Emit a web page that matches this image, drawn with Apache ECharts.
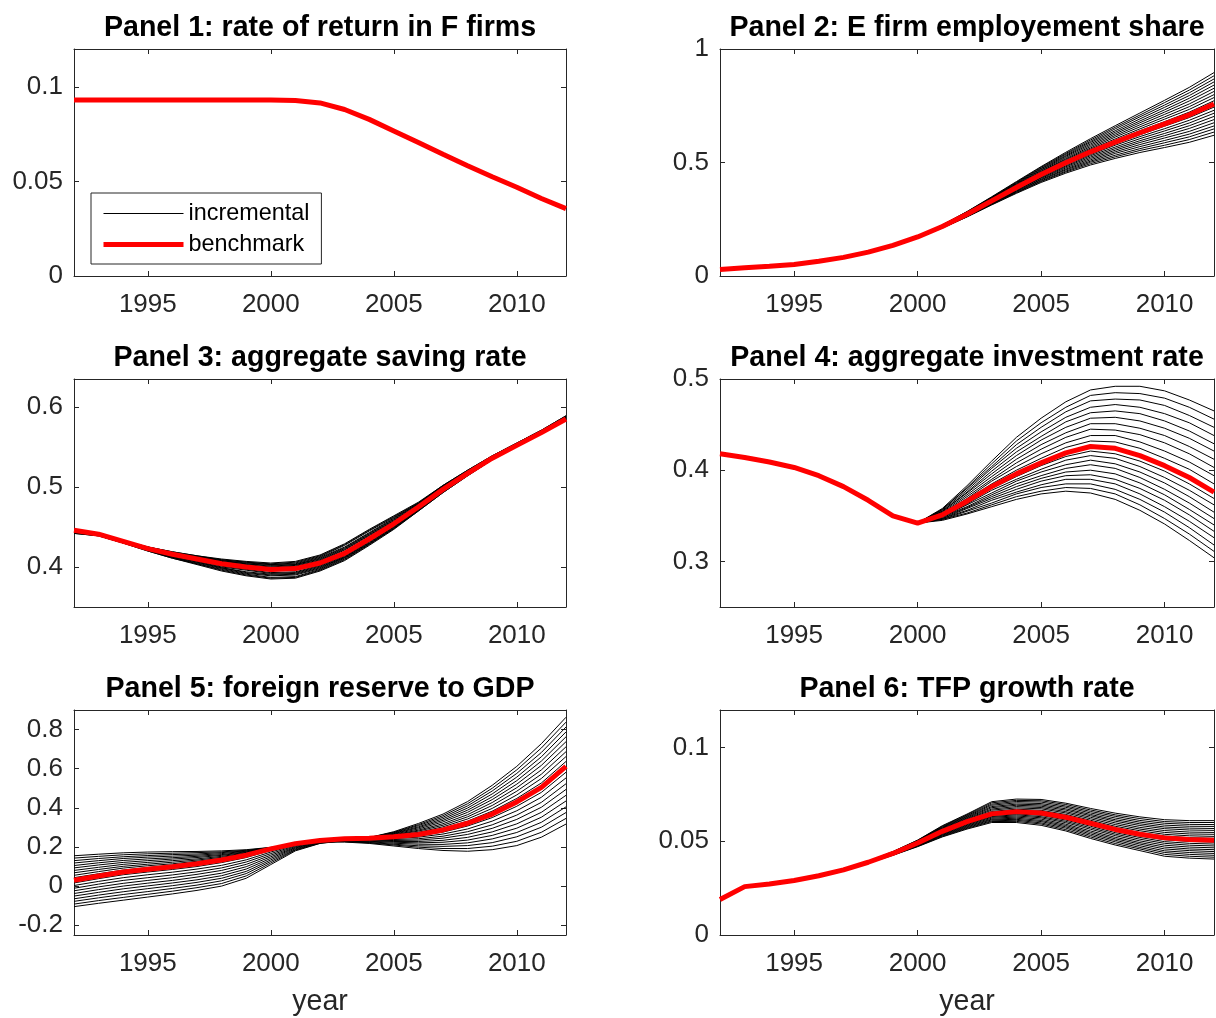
<!DOCTYPE html>
<html>
<head>
<meta charset="utf-8">
<script src="https://cdn.jsdelivr.net/npm/echarts@6/dist/echarts.min.js"></script>
<style>
  html, body { margin: 0; padding: 0; background: #fff; }
  #main { width: 1216px; height: 1018px; }
</style>
</head>
<body>
<div id="main"></div>
<script>
// ---- data (one value per year, 1992..2012) ----
const years = [1992, 1993, 1994, 1995, 1996, 1997, 1998, 1999, 2000, 2001, 2002,
  2003, 2004, 2005, 2006, 2007, 2008, 2009, 2010, 2011, 2012];

const xTicks = [1995, 2000, 2005, 2010];
const p1Ticks = [0, 0.05, 0.1];
const p2Ticks = [0, 0.5, 1];
const p3Ticks = [0.4, 0.5, 0.6];
const p4Ticks = [0.3, 0.4, 0.5];
const p5Ticks = [-0.2, 0, 0.2, 0.4, 0.6, 0.8];
const p6Ticks = [0, 0.05, 0.1];

// panel 1: every incremental path sits under the benchmark
const p1Benchmark = [0.093, 0.093, 0.093, 0.093, 0.093, 0.093, 0.093, 0.093, 0.093, 0.0928, 0.0915,
  0.088, 0.0828, 0.0767, 0.0706, 0.0644, 0.0583, 0.0525, 0.0469, 0.041, 0.0356];
const p1Incremental = [
  [0.093, 0.093, 0.093, 0.093, 0.093, 0.093, 0.093, 0.093, 0.093, 0.0928, 0.0915,
    0.088, 0.0828, 0.0767, 0.0706, 0.0644, 0.0583, 0.0525, 0.0469, 0.041, 0.0356]
];

const p2Benchmark = [0.029, 0.036, 0.043, 0.051, 0.065, 0.082, 0.105, 0.135, 0.172, 0.218, 0.272,
  0.331, 0.390, 0.447, 0.499, 0.547, 0.590, 0.631, 0.670, 0.710, 0.758];
const p2Incremental = [
  [0.029, 0.036, 0.043, 0.051, 0.065, 0.082, 0.105, 0.135, 0.175, 0.225, 0.284, 0.349, 0.416, 0.482, 0.545, 0.605, 0.662, 0.718, 0.774, 0.831, 0.896],
  [0.029, 0.036, 0.043, 0.051, 0.065, 0.082, 0.105, 0.135, 0.175, 0.224, 0.283, 0.347, 0.413, 0.479, 0.540, 0.599, 0.655, 0.709, 0.764, 0.819, 0.882],
  [0.029, 0.036, 0.043, 0.051, 0.065, 0.082, 0.105, 0.135, 0.174, 0.224, 0.282, 0.345, 0.411, 0.475, 0.536, 0.593, 0.648, 0.701, 0.753, 0.807, 0.868],
  [0.029, 0.036, 0.043, 0.051, 0.065, 0.082, 0.105, 0.135, 0.174, 0.223, 0.280, 0.344, 0.408, 0.472, 0.531, 0.588, 0.640, 0.692, 0.743, 0.795, 0.855],
  [0.029, 0.036, 0.043, 0.051, 0.065, 0.082, 0.105, 0.135, 0.174, 0.222, 0.279, 0.342, 0.406, 0.468, 0.527, 0.582, 0.633, 0.683, 0.732, 0.783, 0.841],
  [0.029, 0.036, 0.043, 0.051, 0.065, 0.082, 0.105, 0.135, 0.174, 0.222, 0.278, 0.340, 0.403, 0.465, 0.522, 0.576, 0.626, 0.675, 0.722, 0.771, 0.827],
  [0.029, 0.036, 0.043, 0.051, 0.065, 0.082, 0.105, 0.135, 0.173, 0.221, 0.277, 0.338, 0.400, 0.461, 0.517, 0.570, 0.619, 0.666, 0.712, 0.758, 0.813],
  [0.029, 0.036, 0.043, 0.051, 0.065, 0.082, 0.105, 0.135, 0.173, 0.220, 0.276, 0.336, 0.398, 0.458, 0.513, 0.564, 0.612, 0.657, 0.701, 0.746, 0.799],
  [0.029, 0.036, 0.043, 0.051, 0.065, 0.082, 0.105, 0.135, 0.173, 0.219, 0.274, 0.335, 0.395, 0.454, 0.508, 0.559, 0.604, 0.648, 0.691, 0.734, 0.786],
  [0.029, 0.036, 0.043, 0.051, 0.065, 0.082, 0.105, 0.135, 0.172, 0.219, 0.273, 0.333, 0.393, 0.451, 0.504, 0.553, 0.597, 0.640, 0.680, 0.722, 0.772],
  [0.029, 0.036, 0.043, 0.051, 0.065, 0.082, 0.105, 0.135, 0.172, 0.217, 0.271, 0.329, 0.387, 0.444, 0.494, 0.541, 0.583, 0.622, 0.660, 0.698, 0.744],
  [0.029, 0.036, 0.043, 0.051, 0.065, 0.082, 0.105, 0.135, 0.171, 0.217, 0.270, 0.327, 0.385, 0.440, 0.490, 0.535, 0.576, 0.614, 0.649, 0.686, 0.730],
  [0.029, 0.036, 0.043, 0.051, 0.065, 0.082, 0.105, 0.135, 0.171, 0.216, 0.268, 0.326, 0.382, 0.437, 0.485, 0.530, 0.568, 0.605, 0.639, 0.674, 0.717],
  [0.029, 0.036, 0.043, 0.051, 0.065, 0.082, 0.105, 0.135, 0.171, 0.215, 0.267, 0.324, 0.380, 0.433, 0.481, 0.524, 0.561, 0.596, 0.628, 0.662, 0.703],
  [0.029, 0.036, 0.043, 0.051, 0.065, 0.082, 0.105, 0.135, 0.171, 0.215, 0.266, 0.322, 0.377, 0.430, 0.476, 0.518, 0.554, 0.588, 0.618, 0.650, 0.689],
  [0.029, 0.036, 0.043, 0.051, 0.065, 0.082, 0.105, 0.135, 0.170, 0.214, 0.265, 0.320, 0.374, 0.426, 0.471, 0.512, 0.547, 0.579, 0.608, 0.637, 0.675],
  [0.029, 0.036, 0.043, 0.051, 0.065, 0.082, 0.105, 0.135, 0.170, 0.213, 0.264, 0.318, 0.372, 0.423, 0.467, 0.506, 0.540, 0.570, 0.597, 0.625, 0.661],
  [0.029, 0.036, 0.043, 0.051, 0.065, 0.082, 0.105, 0.135, 0.170, 0.212, 0.262, 0.317, 0.369, 0.419, 0.462, 0.501, 0.532, 0.561, 0.587, 0.613, 0.648],
  [0.029, 0.036, 0.043, 0.051, 0.065, 0.082, 0.105, 0.135, 0.169, 0.212, 0.261, 0.315, 0.367, 0.416, 0.458, 0.495, 0.525, 0.553, 0.576, 0.601, 0.634],
  [0.029, 0.036, 0.043, 0.051, 0.065, 0.082, 0.105, 0.135, 0.169, 0.211, 0.260, 0.313, 0.364, 0.412, 0.453, 0.489, 0.518, 0.544, 0.566, 0.589, 0.620]
];

const p3Benchmark = [0.446, 0.441, 0.432, 0.423, 0.416, 0.410, 0.404, 0.400, 0.397, 0.398, 0.405,
  0.417, 0.435, 0.454, 0.475, 0.497, 0.517, 0.536, 0.552, 0.568, 0.585];
const p3Incremental = [
  [0.446, 0.441, 0.433, 0.425, 0.419, 0.414, 0.410, 0.407, 0.405, 0.407, 0.415, 0.429, 0.447, 0.464, 0.481, 0.502, 0.521, 0.539, 0.555, 0.571, 0.589],
  [0.446, 0.441, 0.433, 0.425, 0.419, 0.414, 0.409, 0.406, 0.404, 0.406, 0.414, 0.428, 0.446, 0.463, 0.480, 0.502, 0.521, 0.539, 0.555, 0.571, 0.589],
  [0.446, 0.441, 0.433, 0.425, 0.418, 0.413, 0.409, 0.406, 0.403, 0.405, 0.413, 0.427, 0.445, 0.462, 0.480, 0.501, 0.520, 0.538, 0.554, 0.570, 0.588],
  [0.446, 0.441, 0.433, 0.424, 0.418, 0.413, 0.408, 0.405, 0.403, 0.404, 0.412, 0.425, 0.443, 0.461, 0.479, 0.501, 0.520, 0.538, 0.554, 0.570, 0.588],
  [0.446, 0.441, 0.433, 0.424, 0.418, 0.412, 0.408, 0.404, 0.402, 0.403, 0.411, 0.424, 0.442, 0.460, 0.479, 0.500, 0.519, 0.538, 0.554, 0.570, 0.587],
  [0.446, 0.441, 0.432, 0.424, 0.418, 0.412, 0.407, 0.404, 0.401, 0.403, 0.410, 0.423, 0.441, 0.459, 0.478, 0.500, 0.519, 0.538, 0.554, 0.570, 0.587],
  [0.446, 0.441, 0.432, 0.424, 0.417, 0.412, 0.406, 0.403, 0.400, 0.402, 0.409, 0.422, 0.440, 0.458, 0.477, 0.499, 0.519, 0.537, 0.553, 0.569, 0.587],
  [0.446, 0.441, 0.432, 0.424, 0.417, 0.411, 0.406, 0.402, 0.399, 0.401, 0.408, 0.421, 0.439, 0.457, 0.477, 0.499, 0.518, 0.537, 0.553, 0.569, 0.586],
  [0.446, 0.441, 0.432, 0.423, 0.417, 0.411, 0.405, 0.401, 0.399, 0.400, 0.407, 0.419, 0.437, 0.456, 0.476, 0.498, 0.518, 0.537, 0.553, 0.569, 0.586],
  [0.446, 0.441, 0.432, 0.423, 0.416, 0.410, 0.405, 0.401, 0.398, 0.399, 0.406, 0.418, 0.436, 0.455, 0.476, 0.498, 0.517, 0.536, 0.552, 0.568, 0.585],
  [0.446, 0.441, 0.432, 0.423, 0.415, 0.409, 0.403, 0.399, 0.396, 0.397, 0.404, 0.416, 0.434, 0.453, 0.475, 0.497, 0.517, 0.536, 0.552, 0.568, 0.585],
  [0.445, 0.441, 0.432, 0.422, 0.415, 0.409, 0.402, 0.398, 0.395, 0.396, 0.403, 0.415, 0.433, 0.453, 0.474, 0.496, 0.516, 0.536, 0.552, 0.568, 0.585],
  [0.445, 0.440, 0.431, 0.422, 0.414, 0.408, 0.401, 0.397, 0.393, 0.394, 0.402, 0.414, 0.433, 0.452, 0.473, 0.496, 0.516, 0.535, 0.552, 0.568, 0.585],
  [0.444, 0.440, 0.431, 0.422, 0.414, 0.407, 0.400, 0.396, 0.392, 0.393, 0.401, 0.413, 0.432, 0.451, 0.473, 0.495, 0.516, 0.535, 0.552, 0.568, 0.585],
  [0.444, 0.440, 0.431, 0.421, 0.413, 0.406, 0.399, 0.394, 0.391, 0.392, 0.400, 0.412, 0.431, 0.450, 0.472, 0.495, 0.515, 0.535, 0.551, 0.567, 0.585],
  [0.444, 0.440, 0.431, 0.421, 0.413, 0.406, 0.399, 0.393, 0.390, 0.391, 0.399, 0.412, 0.430, 0.450, 0.472, 0.495, 0.515, 0.535, 0.551, 0.567, 0.585],
  [0.443, 0.440, 0.431, 0.421, 0.412, 0.405, 0.398, 0.392, 0.389, 0.390, 0.398, 0.411, 0.429, 0.449, 0.471, 0.494, 0.515, 0.535, 0.551, 0.567, 0.585],
  [0.443, 0.439, 0.430, 0.421, 0.412, 0.404, 0.397, 0.391, 0.387, 0.388, 0.397, 0.410, 0.429, 0.448, 0.471, 0.494, 0.515, 0.534, 0.551, 0.567, 0.585],
  [0.442, 0.439, 0.430, 0.420, 0.411, 0.404, 0.396, 0.390, 0.386, 0.387, 0.396, 0.409, 0.428, 0.448, 0.470, 0.493, 0.514, 0.534, 0.551, 0.567, 0.585],
  [0.442, 0.439, 0.430, 0.420, 0.411, 0.403, 0.395, 0.389, 0.385, 0.386, 0.395, 0.408, 0.427, 0.447, 0.470, 0.493, 0.514, 0.534, 0.551, 0.567, 0.585]
];

const p4Benchmark = [0.418, 0.414, 0.409, 0.403, 0.394, 0.382, 0.367, 0.350, 0.342, 0.351, 0.366,
  0.382, 0.396, 0.408, 0.419, 0.426, 0.424, 0.416, 0.405, 0.392, 0.376];
const p4Incremental = [
  [0.418, 0.414, 0.409, 0.403, 0.394, 0.382, 0.367, 0.350, 0.342, 0.358, 0.383, 0.410, 0.436, 0.457, 0.475, 0.488, 0.492, 0.492, 0.487, 0.477, 0.465],
  [0.418, 0.414, 0.409, 0.403, 0.394, 0.382, 0.367, 0.350, 0.342, 0.357, 0.381, 0.407, 0.432, 0.452, 0.469, 0.482, 0.485, 0.484, 0.479, 0.469, 0.456],
  [0.418, 0.414, 0.409, 0.403, 0.394, 0.382, 0.367, 0.350, 0.342, 0.357, 0.380, 0.404, 0.428, 0.447, 0.464, 0.476, 0.478, 0.477, 0.471, 0.460, 0.447],
  [0.418, 0.414, 0.409, 0.403, 0.394, 0.382, 0.367, 0.350, 0.342, 0.356, 0.378, 0.402, 0.424, 0.442, 0.458, 0.469, 0.472, 0.469, 0.462, 0.452, 0.438],
  [0.418, 0.414, 0.409, 0.403, 0.394, 0.382, 0.367, 0.350, 0.342, 0.355, 0.376, 0.399, 0.420, 0.437, 0.453, 0.463, 0.465, 0.462, 0.454, 0.443, 0.429],
  [0.418, 0.414, 0.409, 0.403, 0.394, 0.382, 0.367, 0.350, 0.342, 0.355, 0.375, 0.396, 0.416, 0.433, 0.447, 0.457, 0.458, 0.454, 0.446, 0.435, 0.421],
  [0.418, 0.414, 0.409, 0.403, 0.394, 0.382, 0.367, 0.350, 0.342, 0.354, 0.373, 0.393, 0.412, 0.428, 0.441, 0.451, 0.451, 0.446, 0.438, 0.426, 0.412],
  [0.418, 0.414, 0.409, 0.403, 0.394, 0.382, 0.367, 0.350, 0.342, 0.353, 0.371, 0.390, 0.408, 0.423, 0.436, 0.445, 0.444, 0.439, 0.430, 0.418, 0.403],
  [0.418, 0.414, 0.409, 0.403, 0.394, 0.382, 0.367, 0.350, 0.342, 0.352, 0.369, 0.388, 0.404, 0.418, 0.430, 0.438, 0.438, 0.431, 0.421, 0.409, 0.394],
  [0.418, 0.414, 0.409, 0.403, 0.394, 0.382, 0.367, 0.350, 0.342, 0.352, 0.368, 0.385, 0.400, 0.413, 0.425, 0.432, 0.431, 0.424, 0.413, 0.401, 0.385],
  [0.418, 0.414, 0.409, 0.403, 0.394, 0.382, 0.367, 0.350, 0.342, 0.350, 0.365, 0.380, 0.393, 0.405, 0.415, 0.421, 0.418, 0.410, 0.399, 0.385, 0.369],
  [0.418, 0.414, 0.409, 0.403, 0.394, 0.382, 0.367, 0.350, 0.342, 0.350, 0.363, 0.378, 0.390, 0.401, 0.411, 0.416, 0.413, 0.404, 0.392, 0.378, 0.362],
  [0.418, 0.414, 0.409, 0.403, 0.394, 0.382, 0.367, 0.350, 0.342, 0.349, 0.362, 0.375, 0.388, 0.398, 0.406, 0.411, 0.407, 0.398, 0.386, 0.371, 0.354],
  [0.418, 0.414, 0.409, 0.403, 0.394, 0.382, 0.367, 0.350, 0.342, 0.349, 0.360, 0.373, 0.385, 0.394, 0.402, 0.406, 0.402, 0.392, 0.379, 0.364, 0.347],
  [0.418, 0.414, 0.409, 0.403, 0.394, 0.382, 0.367, 0.350, 0.342, 0.348, 0.359, 0.371, 0.382, 0.391, 0.398, 0.400, 0.396, 0.386, 0.373, 0.357, 0.340],
  [0.418, 0.414, 0.409, 0.403, 0.394, 0.382, 0.367, 0.350, 0.342, 0.347, 0.358, 0.369, 0.379, 0.388, 0.394, 0.395, 0.390, 0.380, 0.367, 0.351, 0.333],
  [0.418, 0.414, 0.409, 0.403, 0.394, 0.382, 0.367, 0.350, 0.342, 0.347, 0.356, 0.367, 0.376, 0.384, 0.390, 0.390, 0.385, 0.374, 0.360, 0.344, 0.326],
  [0.418, 0.414, 0.409, 0.403, 0.394, 0.382, 0.367, 0.350, 0.342, 0.346, 0.355, 0.364, 0.374, 0.381, 0.385, 0.385, 0.379, 0.368, 0.354, 0.337, 0.318],
  [0.418, 0.414, 0.409, 0.403, 0.394, 0.382, 0.367, 0.350, 0.342, 0.346, 0.353, 0.362, 0.371, 0.377, 0.381, 0.380, 0.374, 0.362, 0.347, 0.330, 0.311],
  [0.418, 0.414, 0.409, 0.403, 0.394, 0.382, 0.367, 0.350, 0.342, 0.345, 0.352, 0.360, 0.368, 0.374, 0.377, 0.375, 0.368, 0.356, 0.341, 0.323, 0.304]
];

const p5Benchmark = [0.030, 0.052, 0.072, 0.086, 0.099, 0.114, 0.133, 0.158, 0.190, 0.217, 0.233,
  0.242, 0.245, 0.252, 0.264, 0.287, 0.321, 0.368, 0.430, 0.505, 0.612];
const p5Incremental = [
  [0.155, 0.163, 0.170, 0.174, 0.176, 0.177, 0.180, 0.186, 0.198, 0.214, 0.225, 0.225, 0.218, 0.205, 0.192, 0.182, 0.178, 0.186, 0.207, 0.250, 0.317],
  [0.143, 0.152, 0.160, 0.165, 0.168, 0.171, 0.175, 0.183, 0.197, 0.214, 0.226, 0.227, 0.221, 0.210, 0.199, 0.192, 0.192, 0.204, 0.229, 0.275, 0.346],
  [0.130, 0.141, 0.150, 0.156, 0.161, 0.164, 0.171, 0.180, 0.196, 0.215, 0.227, 0.228, 0.223, 0.214, 0.206, 0.203, 0.207, 0.222, 0.252, 0.301, 0.376],
  [0.118, 0.130, 0.141, 0.148, 0.153, 0.158, 0.166, 0.178, 0.196, 0.215, 0.227, 0.230, 0.226, 0.219, 0.214, 0.213, 0.221, 0.241, 0.274, 0.326, 0.405],
  [0.105, 0.119, 0.131, 0.139, 0.145, 0.152, 0.161, 0.175, 0.195, 0.215, 0.228, 0.232, 0.229, 0.224, 0.221, 0.224, 0.235, 0.259, 0.296, 0.352, 0.435],
  [0.093, 0.108, 0.121, 0.130, 0.138, 0.146, 0.157, 0.172, 0.194, 0.215, 0.229, 0.233, 0.231, 0.228, 0.228, 0.234, 0.249, 0.277, 0.318, 0.377, 0.464],
  [0.080, 0.096, 0.111, 0.121, 0.130, 0.139, 0.152, 0.169, 0.193, 0.216, 0.230, 0.235, 0.234, 0.233, 0.235, 0.245, 0.264, 0.295, 0.341, 0.403, 0.494],
  [0.068, 0.085, 0.101, 0.112, 0.122, 0.133, 0.147, 0.166, 0.192, 0.216, 0.231, 0.237, 0.237, 0.238, 0.242, 0.255, 0.278, 0.313, 0.363, 0.428, 0.523],
  [0.055, 0.074, 0.092, 0.104, 0.114, 0.127, 0.142, 0.164, 0.192, 0.216, 0.231, 0.239, 0.240, 0.243, 0.250, 0.266, 0.292, 0.332, 0.385, 0.454, 0.553],
  [0.043, 0.063, 0.082, 0.095, 0.107, 0.120, 0.138, 0.161, 0.191, 0.217, 0.232, 0.240, 0.242, 0.247, 0.257, 0.276, 0.307, 0.350, 0.408, 0.479, 0.582],
  [0.016, 0.038, 0.058, 0.072, 0.085, 0.100, 0.120, 0.146, 0.182, 0.213, 0.231, 0.241, 0.245, 0.255, 0.270, 0.295, 0.332, 0.383, 0.448, 0.527, 0.637],
  [0.003, 0.024, 0.043, 0.058, 0.071, 0.087, 0.106, 0.134, 0.174, 0.210, 0.230, 0.240, 0.246, 0.257, 0.275, 0.303, 0.343, 0.397, 0.466, 0.550, 0.662],
  [-0.011, 0.010, 0.029, 0.043, 0.057, 0.073, 0.093, 0.123, 0.166, 0.206, 0.228, 0.239, 0.246, 0.260, 0.281, 0.311, 0.354, 0.412, 0.485, 0.572, 0.687],
  [-0.024, -0.004, 0.014, 0.029, 0.043, 0.060, 0.080, 0.111, 0.158, 0.202, 0.227, 0.238, 0.246, 0.262, 0.286, 0.319, 0.365, 0.427, 0.503, 0.594, 0.712],
  [-0.038, -0.018, 0.000, 0.015, 0.029, 0.046, 0.066, 0.099, 0.150, 0.198, 0.225, 0.237, 0.247, 0.265, 0.292, 0.328, 0.377, 0.442, 0.521, 0.617, 0.738],
  [-0.051, -0.032, -0.014, 0.001, 0.016, 0.032, 0.053, 0.087, 0.142, 0.195, 0.224, 0.236, 0.247, 0.268, 0.298, 0.336, 0.388, 0.456, 0.539, 0.639, 0.763],
  [-0.065, -0.046, -0.029, -0.013, 0.002, 0.019, 0.040, 0.075, 0.134, 0.191, 0.222, 0.235, 0.247, 0.270, 0.303, 0.344, 0.399, 0.471, 0.557, 0.661, 0.788],
  [-0.078, -0.060, -0.043, -0.028, -0.012, 0.005, 0.027, 0.064, 0.126, 0.187, 0.221, 0.234, 0.247, 0.273, 0.309, 0.352, 0.410, 0.486, 0.576, 0.683, 0.813],
  [-0.092, -0.074, -0.058, -0.042, -0.026, -0.008, 0.013, 0.052, 0.118, 0.184, 0.219, 0.233, 0.248, 0.275, 0.314, 0.360, 0.421, 0.500, 0.594, 0.706, 0.838],
  [-0.105, -0.088, -0.072, -0.056, -0.040, -0.022, 0.000, 0.040, 0.110, 0.180, 0.218, 0.232, 0.248, 0.278, 0.320, 0.368, 0.432, 0.515, 0.612, 0.728, 0.863]
];

const p6Benchmark = [0.0189, 0.0258, 0.0272, 0.0291, 0.0316, 0.0347, 0.0388, 0.0435, 0.0491, 0.0553, 0.0605,
  0.0646, 0.0658, 0.0651, 0.0628, 0.0596, 0.0563, 0.0537, 0.0518, 0.0509, 0.0505];
const p6Incremental = [
  [0.0189, 0.0258, 0.0272, 0.0291, 0.0316, 0.0349, 0.0393, 0.0445, 0.0506, 0.0583, 0.0645, 0.0711, 0.0725, 0.0723, 0.0703, 0.0675, 0.0650, 0.0630, 0.0615, 0.0610, 0.0610],
  [0.0189, 0.0258, 0.0272, 0.0291, 0.0316, 0.0349, 0.0393, 0.0444, 0.0505, 0.0580, 0.0641, 0.0705, 0.0718, 0.0716, 0.0696, 0.0667, 0.0641, 0.0621, 0.0605, 0.0600, 0.0600],
  [0.0189, 0.0258, 0.0272, 0.0291, 0.0316, 0.0349, 0.0392, 0.0443, 0.0503, 0.0577, 0.0637, 0.0698, 0.0712, 0.0709, 0.0688, 0.0659, 0.0633, 0.0611, 0.0596, 0.0590, 0.0589],
  [0.0189, 0.0258, 0.0272, 0.0291, 0.0316, 0.0348, 0.0392, 0.0442, 0.0502, 0.0574, 0.0633, 0.0692, 0.0705, 0.0701, 0.0681, 0.0651, 0.0624, 0.0602, 0.0586, 0.0580, 0.0579],
  [0.0189, 0.0258, 0.0272, 0.0291, 0.0316, 0.0348, 0.0391, 0.0441, 0.0500, 0.0571, 0.0629, 0.0685, 0.0698, 0.0694, 0.0673, 0.0643, 0.0615, 0.0593, 0.0576, 0.0570, 0.0568],
  [0.0189, 0.0258, 0.0272, 0.0291, 0.0316, 0.0348, 0.0391, 0.0440, 0.0499, 0.0568, 0.0625, 0.0679, 0.0692, 0.0687, 0.0666, 0.0636, 0.0607, 0.0584, 0.0567, 0.0560, 0.0558],
  [0.0189, 0.0258, 0.0272, 0.0291, 0.0316, 0.0348, 0.0390, 0.0439, 0.0497, 0.0565, 0.0621, 0.0672, 0.0685, 0.0680, 0.0658, 0.0628, 0.0598, 0.0574, 0.0557, 0.0549, 0.0547],
  [0.0189, 0.0258, 0.0272, 0.0291, 0.0316, 0.0348, 0.0390, 0.0438, 0.0496, 0.0562, 0.0617, 0.0666, 0.0678, 0.0673, 0.0651, 0.0620, 0.0589, 0.0565, 0.0547, 0.0539, 0.0537],
  [0.0189, 0.0258, 0.0272, 0.0291, 0.0316, 0.0347, 0.0389, 0.0437, 0.0494, 0.0559, 0.0613, 0.0659, 0.0671, 0.0665, 0.0643, 0.0612, 0.0580, 0.0556, 0.0537, 0.0529, 0.0526],
  [0.0189, 0.0258, 0.0272, 0.0291, 0.0316, 0.0347, 0.0389, 0.0436, 0.0493, 0.0556, 0.0609, 0.0653, 0.0665, 0.0658, 0.0636, 0.0604, 0.0572, 0.0546, 0.0528, 0.0519, 0.0516],
  [0.0189, 0.0258, 0.0272, 0.0291, 0.0316, 0.0347, 0.0387, 0.0434, 0.0489, 0.0550, 0.0601, 0.0641, 0.0652, 0.0644, 0.0621, 0.0588, 0.0555, 0.0528, 0.0508, 0.0499, 0.0495],
  [0.0189, 0.0258, 0.0272, 0.0291, 0.0316, 0.0347, 0.0387, 0.0433, 0.0487, 0.0547, 0.0597, 0.0637, 0.0646, 0.0638, 0.0613, 0.0580, 0.0546, 0.0520, 0.0498, 0.0489, 0.0485],
  [0.0189, 0.0258, 0.0272, 0.0291, 0.0316, 0.0346, 0.0386, 0.0432, 0.0485, 0.0544, 0.0593, 0.0632, 0.0641, 0.0631, 0.0606, 0.0572, 0.0538, 0.0511, 0.0489, 0.0479, 0.0475],
  [0.0189, 0.0258, 0.0272, 0.0291, 0.0316, 0.0346, 0.0386, 0.0431, 0.0483, 0.0541, 0.0589, 0.0628, 0.0635, 0.0625, 0.0599, 0.0564, 0.0530, 0.0502, 0.0479, 0.0469, 0.0465],
  [0.0189, 0.0258, 0.0272, 0.0291, 0.0316, 0.0346, 0.0385, 0.0430, 0.0481, 0.0538, 0.0585, 0.0623, 0.0629, 0.0618, 0.0591, 0.0555, 0.0521, 0.0493, 0.0469, 0.0459, 0.0455],
  [0.0189, 0.0258, 0.0272, 0.0291, 0.0316, 0.0346, 0.0385, 0.0429, 0.0479, 0.0535, 0.0581, 0.0618, 0.0623, 0.0611, 0.0584, 0.0547, 0.0513, 0.0485, 0.0459, 0.0450, 0.0445],
  [0.0189, 0.0258, 0.0272, 0.0291, 0.0316, 0.0346, 0.0384, 0.0428, 0.0477, 0.0532, 0.0577, 0.0614, 0.0617, 0.0605, 0.0577, 0.0539, 0.0505, 0.0476, 0.0449, 0.0440, 0.0435],
  [0.0189, 0.0258, 0.0272, 0.0291, 0.0316, 0.0345, 0.0384, 0.0427, 0.0475, 0.0529, 0.0573, 0.0609, 0.0612, 0.0598, 0.0570, 0.0531, 0.0497, 0.0467, 0.0440, 0.0430, 0.0425],
  [0.0189, 0.0258, 0.0272, 0.0291, 0.0316, 0.0345, 0.0383, 0.0426, 0.0473, 0.0526, 0.0569, 0.0605, 0.0606, 0.0592, 0.0562, 0.0523, 0.0488, 0.0459, 0.0430, 0.0420, 0.0415],
  [0.0189, 0.0258, 0.0272, 0.0291, 0.0316, 0.0345, 0.0383, 0.0425, 0.0471, 0.0523, 0.0565, 0.0600, 0.0600, 0.0585, 0.0555, 0.0515, 0.0480, 0.0450, 0.0420, 0.0410, 0.0405]
];

// ---- layout / style ----
const FONT = '"Liberation Sans", Arial, Helvetica, sans-serif';
const INK = '#262626';

const cells = [
  { left: 74, top: 49, width: 492, height: 227 },
  { left: 720, top: 49, width: 494, height: 227 },
  { left: 74, top: 379, width: 492, height: 228 },
  { left: 720, top: 379, width: 494, height: 228 },
  { left: 74, top: 710, width: 492, height: 228 },
  { left: 720, top: 710, width: 494, height: 228 }
];

const panels = [
  { title: 'Panel 1: rate of return in F firms', benchmark: p1Benchmark, incremental: p1Incremental, min: 0, max: 0.12, ticks: p1Ticks },
  { title: 'Panel 2: E firm employement share', benchmark: p2Benchmark, incremental: p2Incremental, min: 0, max: 1, ticks: p2Ticks },
  { title: 'Panel 3: aggregate saving rate', benchmark: p3Benchmark, incremental: p3Incremental, min: 0.35, max: 0.635, ticks: p3Ticks },
  { title: 'Panel 4: aggregate investment rate', benchmark: p4Benchmark, incremental: p4Incremental, min: 0.25, max: 0.5, ticks: p4Ticks },
  { title: 'Panel 5: foreign reserve to GDP', benchmark: p5Benchmark, incremental: p5Incremental, min: -0.25, max: 0.9, ticks: p5Ticks },
  { title: 'Panel 6: TFP growth rate', benchmark: p6Benchmark, incremental: p6Incremental, min: 0, max: 0.12, ticks: p6Ticks }
];

const lineStyleAxis = { color: INK, width: 1 };
const labelText = { color: INK, fontFamily: FONT, fontSize: 26 };

function toPairs(vals) {
  return years.map((y, i) => [y, vals[i]]);
}

let chart = echarts.init(document.getElementById('main'));
let option = {
  animation: false,
  backgroundColor: '#fff',
  title: [],
  grid: [],
  xAxis: [],
  yAxis: [],
  series: [],
  legend: {
    data: [
      { name: 'incremental', itemStyle: { opacity: 0 }, lineStyle: { color: '#000', width: 1 } },
      { name: 'benchmark', itemStyle: { opacity: 0 }, lineStyle: { color: '#ff0000', width: 5 } }
    ],
    orient: 'vertical',
    left: 91,
    top: 193,
    padding: [9, 12, 8, 10],
    itemGap: 8,
    itemWidth: 80,
    itemHeight: 14,
    backgroundColor: '#fff',
    borderColor: INK,
    borderWidth: 1,
    borderRadius: 0,
    selectedMode: false,
    textStyle: { color: '#000', fontFamily: FONT, fontSize: 23.4 }
  }
};

panels.forEach((p, i) => {
  const c = cells[i];
  option.grid.push({ left: c.left, top: c.top, width: c.width, height: c.height });

  option.title.push({
    text: p.title,
    left: c.left + c.width / 2,
    top: c.top - 35,
    textAlign: 'center',
    padding: 0,
    textStyle: { color: '#000', fontFamily: FONT, fontSize: 28.6, fontWeight: 'bold' }
  });

  // bottom + mirrored top x axis (box with inward ticks)
  ['bottom', 'top'].forEach((pos) => {
    option.xAxis.push({
      type: 'value',
      gridIndex: i,
      position: pos,
      min: 1992,
      max: 2012,
      axisLine: { show: true, onZero: false, lineStyle: lineStyleAxis },
      axisTick: { show: true, inside: true, length: 5, customValues: xTicks, lineStyle: lineStyleAxis },
      axisLabel: Object.assign({ show: pos === 'bottom', customValues: xTicks, margin: 16, formatter: (v) => String(v) }, labelText),
      splitLine: { show: false },
      name: pos === 'bottom' && i >= 4 ? 'year' : '',
      nameLocation: 'middle',
      nameGap: 53,
      nameTextStyle: { color: INK, fontFamily: FONT, fontSize: 28.6 }
    });
  });

  // left + mirrored right y axis
  ['left', 'right'].forEach((pos) => {
    option.yAxis.push({
      type: 'value',
      gridIndex: i,
      position: pos,
      min: p.min,
      max: p.max,
      axisLine: { show: true, onZero: false, lineStyle: lineStyleAxis },
      axisTick: { show: true, inside: true, length: 5, customValues: p.ticks, lineStyle: lineStyleAxis },
      axisLabel: Object.assign({
        show: pos === 'left',
        customValues: p.ticks,
        margin: 11,
        formatter: (v) => String(Math.round(v * 10000) / 10000)
      }, labelText),
      splitLine: { show: false }
    });
  });

  p.incremental.forEach((line) => {
    option.series.push({
      name: 'incremental',
      type: 'line',
      xAxisIndex: 2 * i,
      yAxisIndex: 2 * i,
      data: toPairs(line),
      symbol: 'none',
      silent: true,
      z: 2,
      lineStyle: { color: '#000', width: 1 },
      itemStyle: { color: '#000' }
    });
  });

  option.series.push({
    name: 'benchmark',
    type: 'line',
    xAxisIndex: 2 * i,
    yAxisIndex: 2 * i,
    data: toPairs(p.benchmark),
    symbol: 'none',
    silent: true,
    z: 3,
    lineStyle: { color: '#ff0000', width: 5 },
    itemStyle: { color: '#ff0000' }
  });
});

option && chart.setOption(option);
</script>
</body>
</html>
